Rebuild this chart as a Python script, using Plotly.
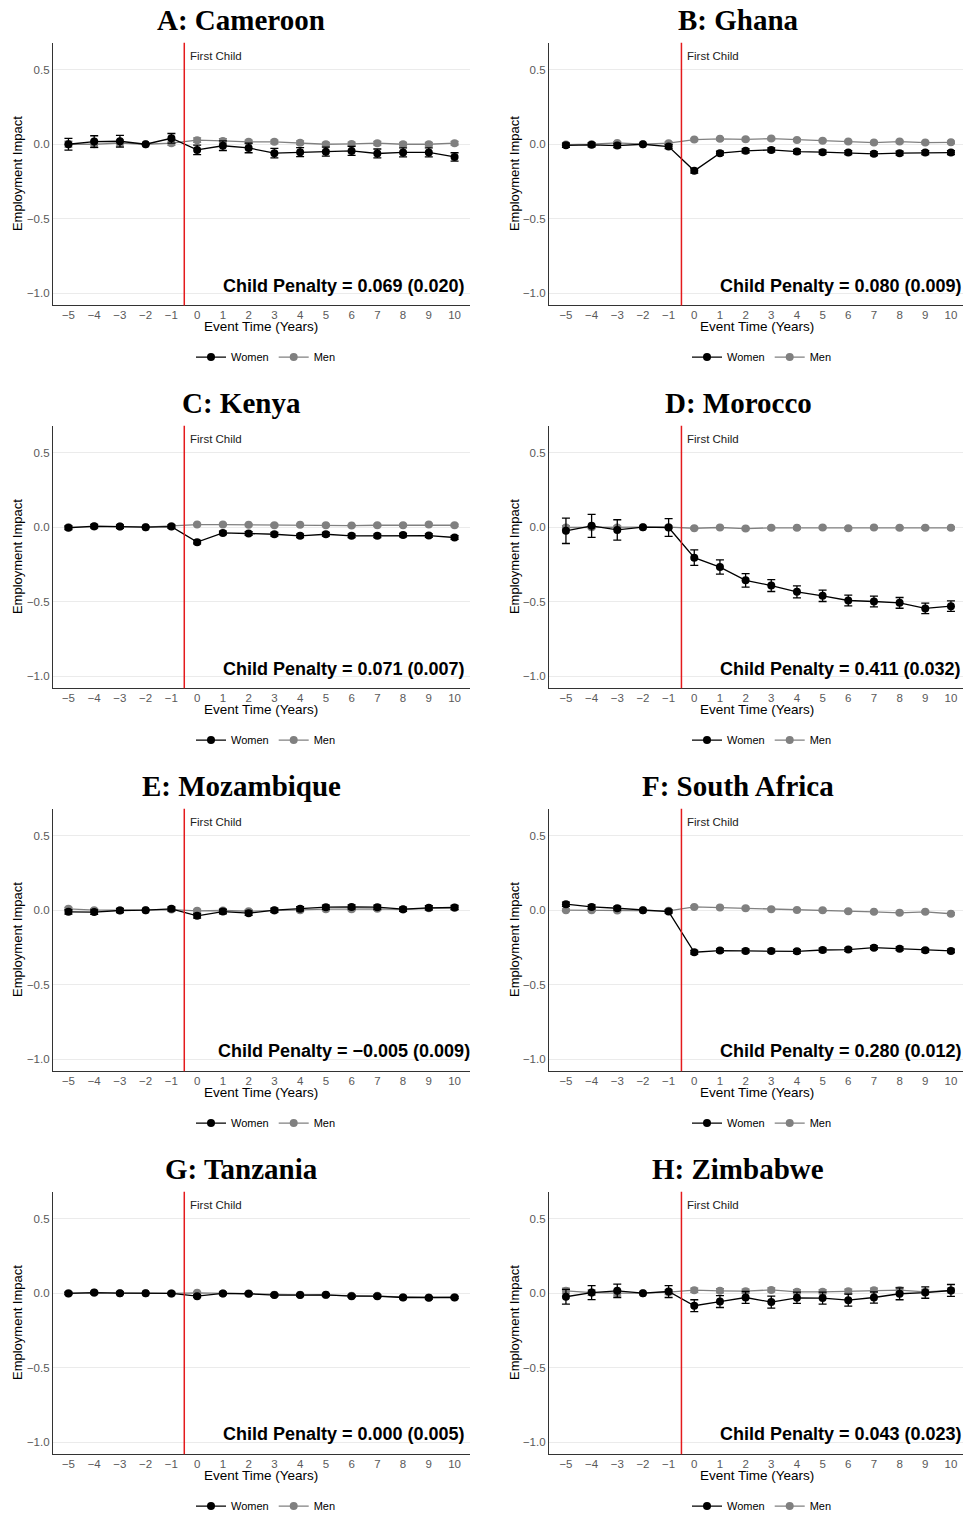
import plotly.graph_objects as go

# ---------------- data ----------------
EVENT_TIME = list(range(-5, 11))
X_TICKS = list(range(-5, 11))
Y_TICKS = [0.5, 0.0, -0.5, -1.0]
SERIES_NAMES = ["Women", "Men"]
PANEL_TITLES = ["A: Cameroon", "B: Ghana", "C: Kenya", "D: Morocco",
                "E: Mozambique", "F: South Africa", "G: Tanzania", "H: Zimbabwe"]
PENALTY_LABELS = ["Child Penalty = 0.069 (0.020)", "Child Penalty = 0.080 (0.009)",
                  "Child Penalty = 0.071 (0.007)", "Child Penalty = 0.411 (0.032)",
                  "Child Penalty = \u22120.005 (0.009)", "Child Penalty = 0.280 (0.012)",
                  "Child Penalty = 0.000 (0.005)", "Child Penalty = 0.043 (0.023)"]
EVENT_LABEL = "First Child"

CAMEROON_WOMEN = [0.000, 0.018, 0.020, 0.0, 0.040, -0.038, -0.010, -0.025, -0.060, -0.053, -0.050, -0.045, -0.062, -0.055, -0.055, -0.085]
CAMEROON_WOMEN_CI = [0.039, 0.039, 0.039, 0.0, 0.032, 0.032, 0.032, 0.032, 0.032, 0.030, 0.030, 0.030, 0.030, 0.030, 0.030, 0.028]
CAMEROON_MEN = [0.000, 0.000, 0.007, 0.0, 0.007, 0.027, 0.022, 0.016, 0.016, 0.010, 0.000, 0.002, 0.007, 0.000, 0.000, 0.007]
CAMEROON_MEN_CI = [0.020, 0.022, 0.020, 0.0, 0.015, 0.015, 0.015, 0.012, 0.012, 0.012, 0.012, 0.012, 0.012, 0.012, 0.012, 0.012]

GHANA_WOMEN = [-0.007, -0.004, -0.009, 0.0, -0.016, -0.178, -0.060, -0.044, -0.038, -0.049, -0.053, -0.056, -0.064, -0.060, -0.056, -0.056]
GHANA_WOMEN_CI = [0.014, 0.013, 0.014, 0.0, 0.013, 0.015, 0.013, 0.013, 0.013, 0.013, 0.013, 0.013, 0.013, 0.013, 0.013, 0.013]
GHANA_MEN = [-0.002, 0.000, 0.009, 0.0, 0.007, 0.031, 0.036, 0.033, 0.038, 0.029, 0.024, 0.018, 0.011, 0.018, 0.011, 0.013]
GHANA_MEN_CI = [0.008, 0.008, 0.008, 0.0, 0.008, 0.008, 0.008, 0.008, 0.008, 0.008, 0.008, 0.008, 0.008, 0.008, 0.008, 0.008]

KENYA_WOMEN = [-0.004, 0.007, 0.004, 0.0, 0.004, -0.100, -0.038, -0.042, -0.047, -0.058, -0.047, -0.058, -0.058, -0.053, -0.056, -0.069]
KENYA_WOMEN_CI = [0.012, 0.012, 0.011, 0.0, 0.011, 0.012, 0.012, 0.012, 0.012, 0.012, 0.012, 0.012, 0.012, 0.012, 0.012, 0.012]
KENYA_MEN = [0.000, 0.004, 0.004, 0.0, 0.007, 0.018, 0.018, 0.016, 0.013, 0.016, 0.013, 0.011, 0.013, 0.013, 0.018, 0.013]
KENYA_MEN_CI = [0.007, 0.007, 0.007, 0.0, 0.007, 0.007, 0.007, 0.007, 0.007, 0.007, 0.007, 0.007, 0.007, 0.007, 0.007, 0.007]

MOROCCO_WOMEN = [-0.024, 0.009, -0.018, 0.0, -0.002, -0.204, -0.267, -0.356, -0.391, -0.433, -0.460, -0.491, -0.498, -0.507, -0.544, -0.529]
MOROCCO_WOMEN_CI = [0.085, 0.077, 0.068, 0.0, 0.060, 0.052, 0.048, 0.045, 0.040, 0.040, 0.038, 0.036, 0.036, 0.036, 0.035, 0.035]
MOROCCO_MEN = [-0.002, 0.000, -0.002, 0.0, 0.000, -0.007, -0.002, -0.009, -0.004, -0.004, -0.002, -0.007, -0.002, -0.004, -0.004, -0.004]
MOROCCO_MEN_CI = [0.012, 0.010, 0.010, 0.0, 0.008, 0.008, 0.008, 0.008, 0.008, 0.008, 0.008, 0.008, 0.008, 0.008, 0.008, 0.008]

MOZAMBIQUE_WOMEN = [-0.011, -0.013, -0.002, 0.0, 0.009, -0.038, -0.009, -0.020, 0.000, 0.009, 0.020, 0.022, 0.020, 0.007, 0.016, 0.018]
MOZAMBIQUE_WOMEN_CI = [0.015, 0.015, 0.014, 0.0, 0.013, 0.015, 0.015, 0.015, 0.014, 0.014, 0.014, 0.014, 0.014, 0.014, 0.014, 0.014]
MOZAMBIQUE_MEN = [0.009, 0.000, 0.000, 0.0, 0.004, -0.004, -0.002, -0.007, -0.002, 0.000, 0.007, 0.007, 0.009, 0.004, 0.013, 0.016]
MOZAMBIQUE_MEN_CI = [0.010, 0.010, 0.010, 0.0, 0.010, 0.010, 0.010, 0.010, 0.010, 0.010, 0.010, 0.010, 0.010, 0.010, 0.010, 0.010]

SOUTH_AFRICA_WOMEN = [0.040, 0.022, 0.013, 0.0, -0.009, -0.282, -0.271, -0.273, -0.273, -0.276, -0.267, -0.264, -0.251, -0.258, -0.269, -0.273]
SOUTH_AFRICA_WOMEN_CI = [0.014, 0.013, 0.012, 0.0, 0.011, 0.012, 0.012, 0.012, 0.012, 0.012, 0.012, 0.012, 0.012, 0.012, 0.012, 0.012]
SOUTH_AFRICA_MEN = [0.000, 0.000, -0.002, 0.0, -0.004, 0.022, 0.018, 0.013, 0.007, 0.002, 0.000, -0.007, -0.011, -0.018, -0.011, -0.024]
SOUTH_AFRICA_MEN_CI = [0.007, 0.007, 0.007, 0.0, 0.007, 0.007, 0.007, 0.007, 0.007, 0.007, 0.007, 0.007, 0.007, 0.007, 0.007, 0.007]

TANZANIA_WOMEN = [-0.002, 0.004, 0.000, 0.0, -0.002, -0.020, -0.002, -0.004, -0.013, -0.013, -0.011, -0.020, -0.020, -0.029, -0.031, -0.029]
TANZANIA_WOMEN_CI = [0.008, 0.008, 0.008, 0.0, 0.008, 0.008, 0.008, 0.008, 0.008, 0.008, 0.008, 0.008, 0.008, 0.008, 0.008, 0.008]
TANZANIA_MEN = [0.000, 0.002, 0.000, 0.0, -0.002, 0.002, -0.002, -0.002, -0.011, -0.011, -0.013, -0.018, -0.018, -0.027, -0.029, -0.027]
TANZANIA_MEN_CI = [0.006, 0.006, 0.006, 0.0, 0.006, 0.006, 0.006, 0.006, 0.006, 0.006, 0.006, 0.006, 0.006, 0.006, 0.006, 0.006]

ZIMBABWE_WOMEN = [-0.024, 0.004, 0.016, 0.0, 0.011, -0.084, -0.056, -0.029, -0.060, -0.031, -0.033, -0.047, -0.029, -0.004, 0.004, 0.018]
ZIMBABWE_WOMEN_CI = [0.049, 0.047, 0.045, 0.0, 0.040, 0.040, 0.040, 0.040, 0.040, 0.038, 0.040, 0.040, 0.038, 0.040, 0.038, 0.040]
ZIMBABWE_MEN = [0.016, 0.004, 0.000, 0.0, 0.007, 0.020, 0.016, 0.013, 0.022, 0.009, 0.009, 0.013, 0.020, 0.020, 0.009, 0.018]
ZIMBABWE_MEN_CI = [0.018, 0.018, 0.018, 0.0, 0.016, 0.014, 0.014, 0.014, 0.014, 0.014, 0.014, 0.014, 0.014, 0.018, 0.016, 0.016]

PANEL_DATA = [
    (CAMEROON_WOMEN, CAMEROON_WOMEN_CI, CAMEROON_MEN, CAMEROON_MEN_CI),
    (GHANA_WOMEN, GHANA_WOMEN_CI, GHANA_MEN, GHANA_MEN_CI),
    (KENYA_WOMEN, KENYA_WOMEN_CI, KENYA_MEN, KENYA_MEN_CI),
    (MOROCCO_WOMEN, MOROCCO_WOMEN_CI, MOROCCO_MEN, MOROCCO_MEN_CI),
    (MOZAMBIQUE_WOMEN, MOZAMBIQUE_WOMEN_CI, MOZAMBIQUE_MEN, MOZAMBIQUE_MEN_CI),
    (SOUTH_AFRICA_WOMEN, SOUTH_AFRICA_WOMEN_CI, SOUTH_AFRICA_MEN, SOUTH_AFRICA_MEN_CI),
    (TANZANIA_WOMEN, TANZANIA_WOMEN_CI, TANZANIA_MEN, TANZANIA_MEN_CI),
    (ZIMBABWE_WOMEN, ZIMBABWE_WOMEN_CI, ZIMBABWE_MEN, ZIMBABWE_MEN_CI),
]

# ---------------- layout helpers ----------------
W, H = 964, 1521
ROW_STEP = 385
WOMEN_COLOR = "#000000"
MEN_COLOR = "#808080"
SANS = "Liberation Sans, Arial, sans-serif"
SERIF = "Liberation Serif, Times New Roman, serif"

COLS = [
    dict(x0=53, x1=470, xr=[-5.6, 10.6], title_c=241, ytitle_x=17, legend_c=266, xtitle_c=261),
    dict(x0=549, x1=963, xr=[-5.66, 10.47], title_c=738, ytitle_x=514, legend_c=762, xtitle_c=757),
]

def px(xp):
    return xp / W

def py(yp):
    return 1 - yp / H

fig = go.Figure()
layout = dict(
    width=W, height=H,
    margin=dict(l=0, r=0, t=0, b=0),
    paper_bgcolor="white", plot_bgcolor="white",
    font=dict(family=SANS, color="#000000"),
    annotations=[], shapes=[],
)

for i, (title, penalty, data) in enumerate(zip(PANEL_TITLES, PENALTY_LABELS, PANEL_DATA)):
    row, col = divmod(i, 2)
    c = COLS[col]
    dy = ROW_STEP * row
    n = i + 1
    xa = "x" if n == 1 else f"x{n}"
    ya = "y" if n == 1 else f"y{n}"
    lg = "legend" if n == 1 else f"legend{n}"
    women, women_ci, men, men_ci = data

    # Men first (drawn underneath), Women on top
    fig.add_trace(go.Scatter(
        x=EVENT_TIME, y=men, name=SERIES_NAMES[1], mode="lines+markers",
        line=dict(color=MEN_COLOR, width=1.3), marker=dict(color=MEN_COLOR, size=8),
        error_y=dict(type="data", array=men_ci, color=MEN_COLOR, thickness=1.3, width=4),
        xaxis=xa, yaxis=ya, legend=lg, legendrank=2, hoverinfo="x+y",
    ))
    fig.add_trace(go.Scatter(
        x=EVENT_TIME, y=women, name=SERIES_NAMES[0], mode="lines+markers",
        line=dict(color=WOMEN_COLOR, width=1.3), marker=dict(color=WOMEN_COLOR, size=8),
        error_y=dict(type="data", array=women_ci, color=WOMEN_COLOR, thickness=1.3, width=4),
        xaxis=xa, yaxis=ya, legend=lg, legendrank=1, hoverinfo="x+y",
    ))

    top, bot = 43 + dy, 307 + dy
    xkey = "xaxis" if n == 1 else f"xaxis{n}"
    ykey = "yaxis" if n == 1 else f"yaxis{n}"
    layout[xkey] = dict(
        domain=[px(c["x0"]), px(c["x1"])], range=c["xr"], anchor=ya,
        tickmode="array", tickvals=X_TICKS, showgrid=False, zeroline=False,
        showline=True, linecolor="#333333", linewidth=1.2, ticks="",
        ticklabelstandoff=-1,
        tickfont=dict(size=11.5, color="#595959", family=SANS), fixedrange=True,
    )
    layout[ykey] = dict(
        domain=[py(bot), py(top)], range=[-1.08, 0.68], anchor=xa,
        tickmode="array", tickvals=Y_TICKS, ticktext=["0.5", "0.0", "\u22120.5", "\u22121.0"],
        showgrid=True, gridcolor="#ebebeb", gridwidth=1, zeroline=False,
        showline=True, linecolor="#333333", linewidth=1.2, ticks="",
        tickfont=dict(size=11.5, color="#595959", family=SANS), fixedrange=True,
    )
    layout[lg] = dict(
        orientation="h", x=px(c["legend_c"]), y=py(359 + dy), xanchor="center", yanchor="middle",
        font=dict(size=11, family=SANS, color="#000000"), bgcolor="rgba(0,0,0,0)",
        traceorder="normal", itemwidth=30,
    )

    # First child vertical line
    layout["shapes"].append(dict(
        type="line", xref=xa, yref=f"{ya} domain", x0=-0.5, x1=-0.5, y0=0, y1=1,
        line=dict(color="#e41a1c", width=1.5), layer="above",
    ))

    anns = layout["annotations"]
    anns.append(dict(text=f"<b>{title}</b>", xref="paper", yref="paper",
                     x=px(c["title_c"]), y=py(20 + dy), xanchor="center", yanchor="middle",
                     showarrow=False, font=dict(family=SERIF, size=29, color="#000000")))
    anns.append(dict(text=EVENT_LABEL, xref=xa, yref=ya, x=-0.5, y=0.593,
                     xanchor="left", yanchor="middle", xshift=4, showarrow=False,
                     font=dict(size=11.5, color="#222222", family=SANS)))
    anns.append(dict(text=f"<b>{penalty}</b>", xref=xa, yref=ya, x=5.7, y=-0.947,
                     xanchor="center", yanchor="middle", showarrow=False,
                     font=dict(size=18, color="#000000", family=SANS)))
    anns.append(dict(text="Employment Impact", xref="paper", yref="paper",
                     x=px(c["ytitle_x"]), y=py((top + bot) / 2), textangle=-90,
                     xanchor="center", yanchor="middle", showarrow=False,
                     font=dict(size=13, color="#000000", family=SANS)))
    anns.append(dict(text="Event Time (Years)", xref="paper", yref="paper",
                     x=px(c["xtitle_c"]), y=py(328 + dy), xanchor="center", yanchor="middle",
                     showarrow=False, font=dict(size=13.5, color="#000000", family=SANS)))

fig.update_layout(**layout)
fig.write_html(
    "out.html",
    config={"displayModeBar": False},
    post_script="document.body.style.margin='0';document.body.style.padding='0';",
)
